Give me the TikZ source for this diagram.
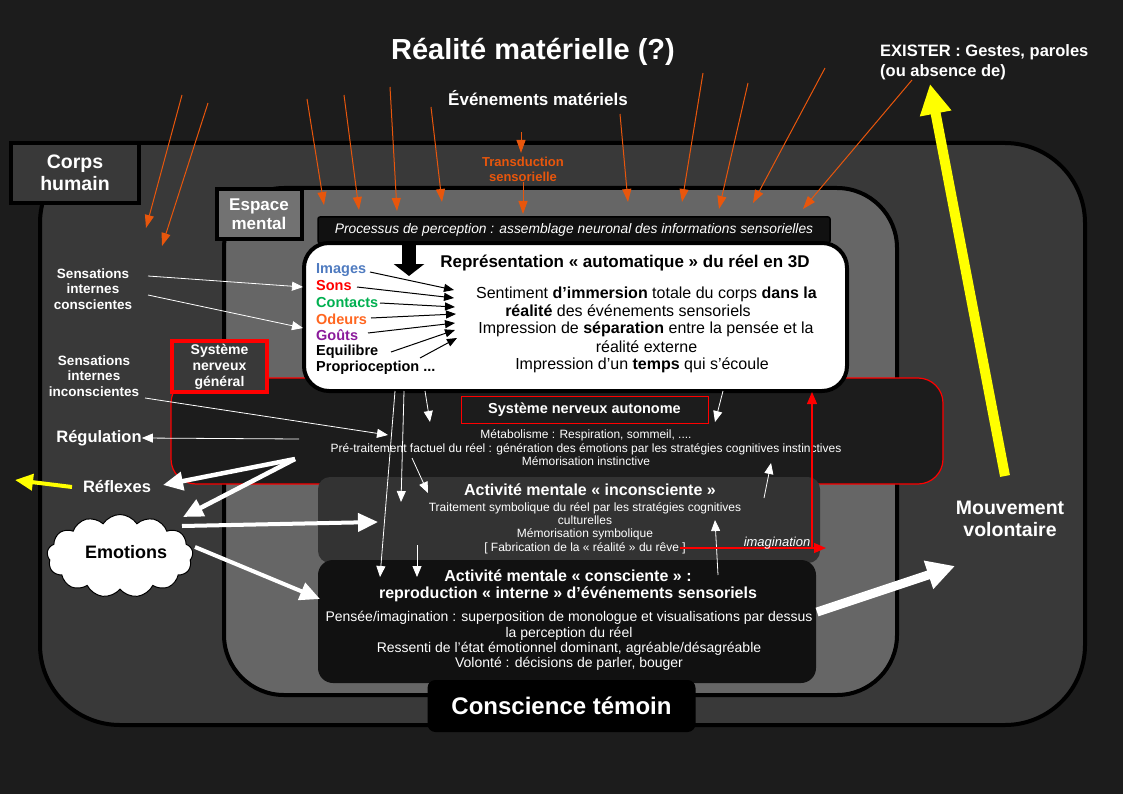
\documentclass[tikz,border=0pt]{standalone}
\usepackage{fontspec}
\setmainfont{Liberation Sans}
\usetikzlibrary{arrows.meta,shapes.symbols}
\definecolor{bgc}{HTML}{1C1C1C}
\definecolor{corpsc}{HTML}{393939}
\definecolor{espc}{HTML}{666666}
\definecolor{esplab}{HTML}{727272}
\definecolor{incc}{HTML}{333333}
\definecolor{conc}{HTML}{111111}
\definecolor{orng}{HTML}{E8560C}
\definecolor{imgc}{HTML}{4F7BC0}
\definecolor{sonc}{HTML}{FF0000}
\definecolor{ctc}{HTML}{00B050}
\definecolor{odc}{HTML}{FF6620}
\definecolor{goc}{HTML}{8B1A9B}
\definecolor{ylw}{HTML}{FFFF00}
\newcommand{\fsz}[2]{\fontsize{#1}{#2}\selectfont}
\begin{document}
\begin{tikzpicture}[x=1pt,y=-1pt,
  wtxt/.style={text=white, inner sep=0pt, align=center},
  orarrow/.style={draw=orng, line width=1pt, -{Triangle[length=13pt,width=9pt]}},
  blkarrow/.style={draw=black, line width=1pt, -{Triangle[length=10pt,width=8pt]}},
  wthin/.style={draw=white, line width=0.8pt, -{Triangle[length=11pt,width=9pt]}},
  wthick/.style={draw=white, line width=4.5pt, -{Triangle[length=20pt,width=18pt]}},
  redarrow/.style={draw=red, line width=1.2pt, -{Triangle[length=12pt,width=10pt]}},
  senselab/.style={anchor=west, inner sep=0pt, font=\bfseries\fsz{14.5}{16}},
  reprline/.style={inner sep=0pt, font=\fsz{16}{18}},
  smalltxt/.style={wtxt, font=\fsz{12}{13.4}},
]
\useasboundingbox (0,0) rectangle (1123,794);
\fill[bgc] (0,0) rectangle (1123,794);

% Corps humain
\draw[line width=4pt, fill=corpsc, rounded corners=80pt] (40,143) rectangle (1085,725);
\node[draw=black, line width=4pt, fill=corpsc, minimum width=128pt, minimum height=60pt, wtxt, font=\bfseries\fsz{19.5}{21.5}] (corps) at (75,173) {Corps\\humain};

% Espace mental
\draw[line width=4pt, fill=espc, rounded corners=60pt] (224,188) rectangle (897,695);
\node[draw=black, line width=4pt, fill=esplab, minimum width=85pt, minimum height=50pt, wtxt, font=\bfseries\fsz{17}{19}] (espace) at (259,214) {Espace\\mental};

% Systeme nerveux
\draw[red, line width=1.2pt, fill=bgc, rounded corners=25pt] (171,378) rectangle (943,484);
\node[draw=red, line width=4pt, fill=corpsc, minimum width=95pt, minimum height=51pt, wtxt, font=\bfseries\fsz{14}{16}] (sng) at (219.5,366.5) {Système\\nerveux\\général};
\node[draw=red, line width=1pt, minimum width=247pt, minimum height=27pt, wtxt, font=\bfseries\fsz{14.5}{16}] (sna) at (584.5,409.5) {Système nerveux autonome};
\node[smalltxt] (snabody) at (586,448) {Métabolisme : Respiration, sommeil, ....\\Pré-traitement factuel du réel : génération des émotions par les stratégies cognitives instinctives\\Mémorisation instinctive};

% Processus de perception
\node[fill=conc, draw=black, line width=1.5pt, minimum width=512pt, minimum height=26pt, rounded corners=2pt, text=white, font=\itshape\fsz{13.8}{15}] (proc) at (574,230) {Processus de perception : assemblage neuronal des informations sensorielles};

% Representation box
\node[draw=black, line width=4pt, fill=white, rounded corners=25pt, minimum width=543pt, minimum height=148pt] (repr) at (575.5,317) {};
\coordinate (bkA) at (409,243);
\coordinate (bkB) at (409,276);
\draw[black, line width=14pt, -{Triangle[length=12pt,width=30pt]}] (bkA) -- (bkB);

\node[inner sep=0pt, font=\bfseries\fsz{17}{19}] (reprtitle) at (625,263) {Représentation « automatique » du réel en 3D};
\node[reprline] (r1) at (646.5,294) {Sentiment \textbf{d’immersion} totale du corps \textbf{dans la}};
\node[reprline] (r2) at (628,311) {\textbf{réalité} des événements sensoriels};
\node[reprline] (r3) at (646,329) {Impression de \textbf{séparation} entre la pensée et la};
\node[reprline] (r4) at (646.5,347) {réalité externe};
\node[reprline] (r5) at (642,365) {Impression d’un \textbf{temps} qui s’écoule};

\node[senselab, text=imgc] (images) at (316,270) {Images};
\node[senselab, text=sonc] (sons) at (316,286) {Sons};
\node[senselab, text=ctc] (contacts) at (316,303) {Contacts};
\node[senselab, text=odc] (odeurs) at (316,319) {Odeurs};
\node[senselab, text=goc] (gouts) at (316,335) {Goûts};
\node[senselab, text=black] (equi) at (316,352) {Equilibre};
\node[senselab, text=black] (propr) at (316,368) {Proprioception ...};

\coordinate (s1) at (370,272); \coordinate (t1) at (454,290);
\coordinate (s2) at (357,287); \coordinate (t2) at (454,298);
\coordinate (s3) at (380,303); \coordinate (t3) at (455,307);
\coordinate (s4) at (371,318); \coordinate (t4) at (456,314);
\coordinate (s5) at (368,333); \coordinate (t5) at (455,323);
\coordinate (s6) at (391,352); \coordinate (t6) at (455,330);
\coordinate (s7) at (420,358); \coordinate (t7) at (457,338);
\foreach \i in {1,...,7} {\draw[blkarrow] (s\i) -- (t\i);}

% Inconsciente
\draw[fill=incc, draw=none, rounded corners=12pt] (318,477) rectangle (820,563);
\node[wtxt, font=\bfseries\fsz{16}{18}] (inctitle) at (590,490) {Activité mentale « inconsciente »};
\node[smalltxt, font=\fsz{12}{13.3}] (incbody) at (585,528) {Traitement symbolique du réel par les stratégies cognitives\\culturelles\\Mémorisation symbolique\\{[} Fabrication de la « réalité » du rêve ]};

% Consciente
\draw[fill=conc, draw=none, rounded corners=15pt] (318,560) rectangle (816,683);
\node[wtxt, font=\bfseries\fsz{16}{17}] (contitle) at (568,585.5) {Activité mentale « consciente » :\\reproduction « interne » d’événements sensoriels};
\node[wtxt, font=\fsz{14}{15.3}] (conbody) at (569,641) {Pensée/imagination : superposition de monologue et visualisations par dessus\\la perception du réel\\Ressenti de l’état émotionnel dominant, agréable/désagréable\\Volonté : décisions de parler, bouger};

% Conscience temoin
\node[fill=black, rounded corners=8pt, minimum width=268pt, minimum height=52pt, wtxt, font=\bfseries\fsz{24}{26}] (temoin) at (561.5,706) {Conscience témoin};

% Top texts
\node[wtxt, font=\bfseries\fsz{29}{32}] (titre) at (533,52) {Réalité matérielle (?)};
\node[wtxt, font=\bfseries\fsz{17}{19}] (evts) at (538,98) {Événements matériels};
\node[inner sep=0pt, align=center, text=orng, font=\bfseries\fsz{13}{15}] (transd) at (523,169.5) {Transduction\\sensorielle};
\node[wtxt, align=left, anchor=west, font=\bfseries\fsz{16.5}{20}] (exister) at (880,62) {EXISTER : Gestes, paroles\\(ou absence de)};

% Orange arrows
\coordinate (o1a) at (182,95);  \coordinate (o1b) at (146,228);
\coordinate (o2a) at (208,103); \coordinate (o2b) at (162,246);
\coordinate (o3a) at (307,99);  \coordinate (o3b) at (324,205);
\coordinate (o4a) at (344,95);  \coordinate (o4b) at (359,210);
\coordinate (o5a) at (390,87);  \coordinate (o5b) at (397,211);
\coordinate (o6a) at (431,107); \coordinate (o6b) at (442,202);
\coordinate (o8a) at (620,114); \coordinate (o8b) at (628,202);
\coordinate (o9a) at (703,73);  \coordinate (o9b) at (682,202);
\coordinate (o10a) at (748,83); \coordinate (o10b) at (719,209);
\coordinate (o11a) at (825,68); \coordinate (o11b) at (753,203);
\coordinate (o12a) at (912,80); \coordinate (o12b) at (803,209);
\foreach \i in {1,2,3,4,5,6,8,9,10,11,12} {\draw[orarrow] (o\i a) -- (o\i b);}
\coordinate (o7a) at (521,132);
\coordinate (o7m) at (521,153);
\draw[orarrow] (o7a) -- (o7m);
\coordinate (o7b) at (523,214);
\draw[orarrow] (transd) -- (o7b);

% Left texts
\node[wtxt, font=\bfseries\fsz{13.5}{15.5}] (sensc) at (93,289) {Sensations\\internes\\conscientes};
\node[wtxt, font=\bfseries\fsz{13.5}{15.5}] (sensi) at (94,376) {Sensations\\internes\\inconscientes};
\node[wtxt, font=\bfseries\fsz{16.5}{18}] (regul) at (99,438) {Régulation};
\node[wtxt, font=\bfseries\fsz{16.5}{18}] (reflex) at (117,487) {Réflexes};
\node[cloud, cloud puffs=13, cloud puff arc=115, aspect=1.8, draw=black, line width=1pt, fill=white, minimum width=146pt, minimum height=83pt, inner sep=0pt] (emo) at (120,556) {};
\node[inner sep=0pt, font=\bfseries\fsz{18}{20}] (emotxt) at (126,552) {Emotions};
\node[wtxt, font=\bfseries\fsz{19.5}{22}] (mouv) at (1010,519) {Mouvement\\volontaire};

% White arrows on left
\coordinate (c1a) at (148,276); \coordinate (c1b) at (303,287);
\coordinate (c2a) at (148,295); \coordinate (c2b) at (303,328);
\draw[wthin] (c1a) -- (c1b);
\draw[wthin] (c2a) -- (c2b);
\coordinate (i1a) at (145,398); \coordinate (i1b) at (388,435);
\draw[wthin] (i1a) -- (i1b);
\coordinate (rg) at (299,439);
\draw[wthin] (rg) -- (regul.east);
\coordinate (rf) at (295,459);
\coordinate (rfb) at (163,485);
\coordinate (emb) at (183,517);
\draw[wthick] (rf) -- (rfb);
\draw[wthick] (rf) -- (emb);
\coordinate (yA) at (72,487); \coordinate (yB) at (15,480);
\draw[ylw, line width=4pt, -{Triangle[length=18pt,width=16pt]}] (yA) -- (yB);
\coordinate (e1a) at (182,526); \coordinate (e1b) at (378,522);
\coordinate (e2a) at (195,547); \coordinate (e2b) at (320,599);
\draw[wthick, line width=4pt] (e1a) -- (e1b);
\draw[wthick, line width=4pt] (e2a) -- (e2b);

% Thin white arrows in the middle
\coordinate (da1) at (395,391); \coordinate (db1) at (380,577);
\coordinate (da2) at (404,391); \coordinate (db2) at (401,502);
\coordinate (da3) at (425,391); \coordinate (db3) at (430,422);
\coordinate (da4) at (412,458); \coordinate (db4) at (428,493);
\coordinate (da5) at (417,545); \coordinate (db5) at (417,577);
\coordinate (da6) at (723,391); \coordinate (db6) at (715,422);
\coordinate (da7) at (764,498); \coordinate (db7) at (771,463);
\coordinate (da8) at (718,575); \coordinate (db8) at (715,520);
\foreach \i in {1,...,8} {\draw[wthin] (da\i) -- (db\i);}

% Red imagination arrows
\coordinate (rA) at (680,548); \coordinate (rB) at (826,548);
\coordinate (rC) at (812,548); \coordinate (rD) at (812,392);
\draw[redarrow] (rA) -- (rB);
\draw[redarrow] (rC) -- (rD);
\node[inner sep=0pt, text=white, font=\itshape\fsz{13}{15}] (imag) at (777,543) {imagination};

% Big arrows right
\coordinate (mA) at (817,612); \coordinate (mB) at (955,566);
\draw[white, line width=9pt, -{Triangle[length=28pt,width=28pt]}] (mA) -- (mB);
\coordinate (yC) at (1005,476); \coordinate (yD) at (930,84);
\draw[ylw, line width=10pt, -{Triangle[length=30pt,width=30pt]}] (yC) -- (yD);
\end{tikzpicture}
\end{document}
